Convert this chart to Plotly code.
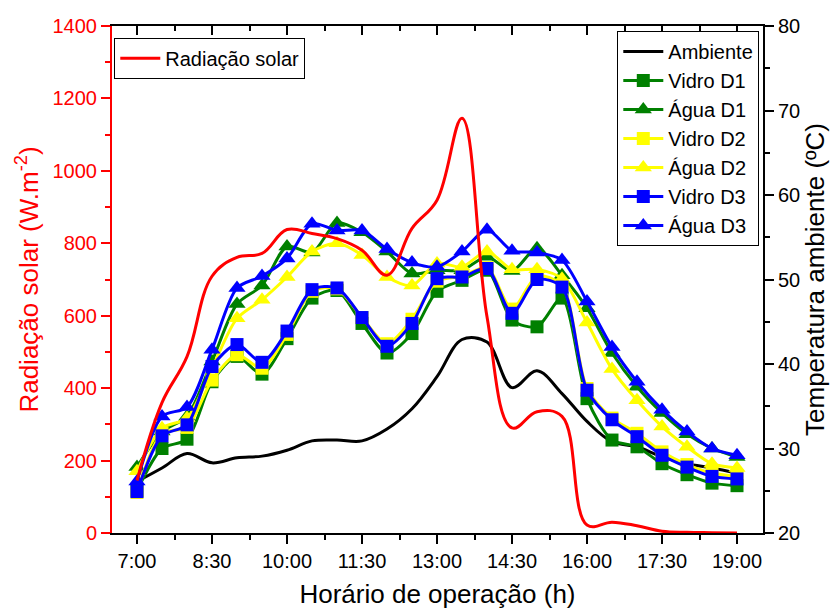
import plotly.graph_objects as go

hours = [7.0, 7.5, 8.0, 8.5, 9.0, 9.5, 10.0, 10.5, 11.0, 11.5, 12.0, 12.5,
         13.0, 13.5, 14.0, 14.5, 15.0, 15.5, 16.0, 16.5, 17.0, 17.5, 18.0, 18.5, 19.0]

tick_vals = [7.0, 8.5, 10.0, 11.5, 13.0, 14.5, 16.0, 17.5, 19.0]
tick_text = ["7:00", "8:30", "10:00", "11:30", "13:00", "14:30", "16:00", "17:30", "19:00"]

radiacao = [145, 360, 487, 709, 761, 772, 838, 827, 813, 781, 712, 841,
            919, 1145, 597, 290, 335, 322, 22, 30, 20, 5, 2, 1, 0]

ambiente = [26.1, 27.7, 29.4, 28.3, 28.9, 29.1, 29.8, 30.9, 31.0, 30.9, 32.3, 34.7,
            38.5, 42.9, 42.6, 37.2, 39.2, 36.5, 33.2, 30.8, 30.2, 29.0, 28.2, 27.7, 27.1]

vidro_d1 = [25.0, 30.0, 31.1, 37.9, 40.9, 38.8, 43.0, 47.8, 48.7, 44.8, 41.3, 43.6,
            48.6, 49.9, 51.1, 45.2, 44.4, 47.8, 35.9, 31.0, 30.2, 28.2, 26.9, 25.9, 25.6]
agua_d1 = [27.8, 32.0, 33.8, 40.3, 47.1, 49.3, 53.9, 53.2, 56.7, 55.6, 53.3, 50.7,
           51.1, 51.1, 52.7, 51.0, 53.7, 50.5, 46.6, 41.3, 37.3, 34.2, 31.7, 30.0, 29.0]
vidro_d2 = [24.8, 31.8, 32.5, 38.1, 41.1, 39.5, 43.5, 48.6, 48.9, 45.5, 42.4, 45.3,
            49.8, 50.4, 51.4, 46.5, 50.4, 49.3, 37.1, 33.6, 31.8, 29.6, 28.1, 27.1, 26.7]
agua_d2 = [27.3, 32.4, 33.6, 39.5, 45.4, 47.6, 50.3, 53.3, 54.3, 52.9, 50.3, 49.3,
           51.9, 51.5, 53.3, 51.2, 51.2, 50.1, 44.9, 39.4, 35.7, 32.6, 30.2, 28.2, 27.7]
vidro_d3 = [24.9, 31.5, 32.8, 39.7, 42.3, 40.2, 43.9, 48.8, 49.0, 45.5, 42.1, 44.8,
            50.1, 50.3, 51.3, 46.0, 50.0, 49.1, 36.9, 33.4, 31.4, 29.2, 27.8, 26.7, 26.4]
agua_d3 = [26.1, 33.8, 34.9, 41.7, 49.0, 50.4, 52.5, 56.6, 55.8, 55.8, 53.6, 52.0,
           51.5, 53.3, 55.9, 53.4, 53.2, 52.3, 47.4, 42.0, 37.9, 34.6, 32.0, 30.0, 29.2]

FONT = "Arial, Liberation Sans, sans-serif"
GREEN = "#008000"
YELLOW = "#FFFF00"
BLUE = "#0000FF"
RED = "#FF0000"
MINOR_X = [7.75, 9.25, 10.75, 12.25, 13.75, 15.25, 16.75, 18.25]

fig = go.Figure()

fig.add_trace(go.Scatter(x=hours, y=ambiente, name="Ambiente", mode="lines",
                         line=dict(color="black", width=3, shape="spline", smoothing=1),
                         yaxis="y", legend="legend2"))

series = [
    ("Vidro D1", vidro_d1, GREEN, "square"),
    ("Água D1", agua_d1, GREEN, "triangle-up"),
    ("Vidro D2", vidro_d2, YELLOW, "square"),
    ("Água D2", agua_d2, YELLOW, "triangle-up"),
    ("Vidro D3", vidro_d3, BLUE, "square"),
    ("Água D3", agua_d3, BLUE, "triangle-up"),
]
for name, vals, col, sym in series:
    fig.add_trace(go.Scatter(
        x=hours, y=vals, name=name, mode="lines+markers",
        line=dict(color=col, width=3, shape="spline", smoothing=0.8),
        marker=dict(color=col, symbol=sym, size=13 if sym == "square" else 15,
                    line=dict(width=0)),
        yaxis="y", legend="legend2"))

fig.add_trace(go.Scatter(x=hours, y=radiacao, name="Radiação solar", mode="lines",
                         line=dict(color=RED, width=3, shape="spline", smoothing=1.1),
                         yaxis="y2", legend="legend"))

# invisible trace so the mirrored top axis is drawn
fig.add_trace(go.Scatter(x=[7], y=[None], xaxis="x2", yaxis="y", showlegend=False,
                         hoverinfo="skip", mode="lines"))

xr = [6.5, 19.52]

fig.update_layout(
    width=837, height=612,
    margin=dict(l=112, r=74, t=26, b=79, autoexpand=False),
    paper_bgcolor="white", plot_bgcolor="white",
    font=dict(family=FONT, size=20, color="black"),
    xaxis=dict(
        range=xr, tickmode="array", tickvals=tick_vals, ticktext=tick_text,
        automargin=False,
        showgrid=False, zeroline=False, showline=True, linecolor="black", linewidth=2,
        ticks="outside", ticklen=9, tickwidth=2, tickcolor="black",
        tickfont=dict(size=20, color="black"),
        minor=dict(tickvals=MINOR_X, ticks="outside", ticklen=5, tickwidth=2,
                   tickcolor="black"),
        title=dict(text="Horário de operação (h)", font=dict(size=26), standoff=14),
    ),
    xaxis2=dict(
        range=xr, overlaying="x", side="top", anchor="y", automargin=False,
        tickmode="array", tickvals=tick_vals, showticklabels=False,
        showgrid=False, zeroline=False, showline=True, linecolor="black", linewidth=2,
        ticks="inside", ticklen=9, tickwidth=2, tickcolor="black",
        minor=dict(tickvals=MINOR_X, ticks="inside", ticklen=5, tickwidth=2,
                   tickcolor="black"),
    ),
    yaxis=dict(
        range=[20, 80], side="right", dtick=10, tick0=20, automargin=False,
        showgrid=False, zeroline=False, showline=True, linecolor="black", linewidth=2,
        ticks="outside", ticklen=9, tickwidth=2, tickcolor="black",
        tickfont=dict(size=20, color="black"),
        minor=dict(dtick=5, tick0=20, ticks="outside", ticklen=5, tickwidth=2,
                   tickcolor="black"),
        title=dict(text="Temperatura ambiente (ºC)", font=dict(size=26, color="black"),
                   standoff=6),
    ),
    yaxis2=dict(
        range=[0, 1400], side="left", overlaying="y", anchor="x", dtick=200, tick0=0,
        automargin=False,
        showgrid=False, zeroline=False, showline=True, linecolor=RED, linewidth=2,
        ticks="outside", ticklen=9, tickwidth=2, tickcolor=RED,
        tickfont=dict(size=20, color=RED),
        minor=dict(dtick=100, tick0=0, ticks="outside", ticklen=5, tickwidth=2,
                   tickcolor=RED),
        title=dict(text="Radiação solar (W.m<sup>-2</sup>)", font=dict(size=26, color=RED),
                   standoff=6),
    ),
    legend=dict(
        x=0.0035, y=0.977, xanchor="left", yanchor="top",
        bgcolor="white", bordercolor="black", borderwidth=1,
        font=dict(size=20, color="black"), itemwidth=40, tracegroupgap=0,
    ),
    legend2=dict(
        x=0.9943, y=0.99, xanchor="right", yanchor="top",
        bgcolor="white", bordercolor="black", borderwidth=1,
        font=dict(size=20, color="black"), itemwidth=40, tracegroupgap=0,
    ),
    showlegend=True,
)

fig.write_html("out.html")
